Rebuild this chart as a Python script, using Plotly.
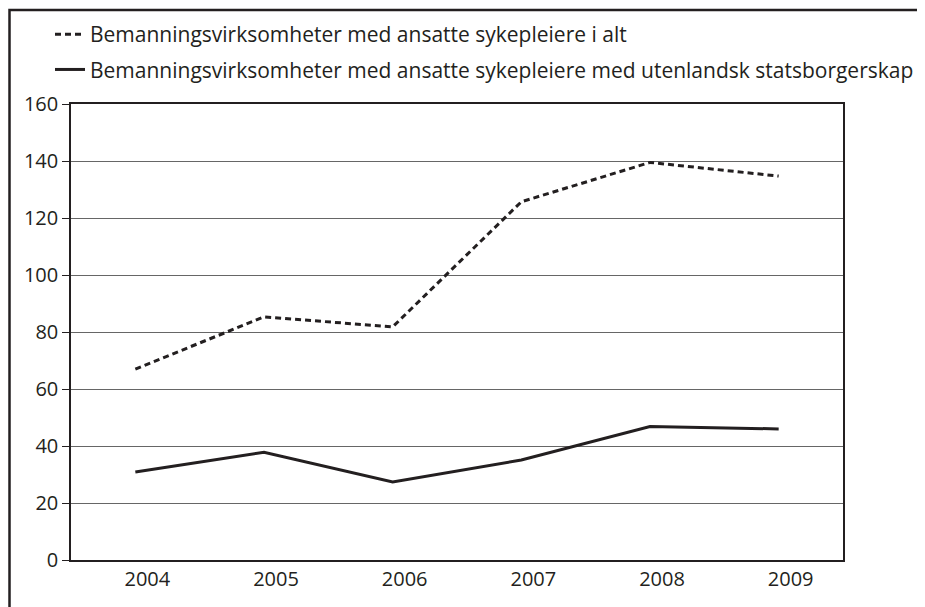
import plotly.graph_objects as go

years = ["2004", "2005", "2006", "2007", "2008", "2009"]
total = [67, 85.3, 81.8, 125.7, 139.5, 134.7]
foreign = [30.9, 37.8, 27.4, 35.1, 46.8, 46.0]
name_total = "Bemanningsvirksomheter med ansatte sykepleiere i alt"
name_foreign = "Bemanningsvirksomheter med ansatte sykepleiere med utenlandsk statsborgerskap"
y_ticks = [0, 20, 40, 60, 80, 100, 120, 140, 160]

OFF = 8  # page body margin offset
W, H = 925, 607
L, R, T, B = 71 - OFF, 82 + OFF, 104 - OFF, 47 + OFF
pw, ph = W - L - R, H - T - B

def px_x(p):
    return (p - OFF - L) / pw

def px_y(p):
    return (H - B - (p - OFF)) / ph

fig = go.Figure()
fig.add_trace(go.Scatter(x=years, y=total, mode="lines", name=name_total,
                         legendgroup="a",
                         line=dict(color="#231f20", width=3, dash="6px,4px")))
fig.add_trace(go.Scatter(x=years, y=foreign, mode="lines", name=name_foreign,
                         legendgroup="b",
                         line=dict(color="#231f20", width=3)))

font = "Open Sans"
fig.update_layout(
    width=W, height=H,
    margin=dict(l=L, r=R, t=T, b=B, autoexpand=False),
    paper_bgcolor="white", plot_bgcolor="white",
    font=dict(family=font, size=20, color="#231f20"),
    showlegend=True,
    legend=dict(x=px_x(50), y=px_y(14), xanchor="left", yanchor="top",
                bgcolor="rgba(0,0,0,0)", tracegroupgap=5,
                font=dict(family=font, size=21, color="#231f20")),
    xaxis=dict(type="category", range=[-0.5, 5.5], showgrid=False,
               showline=True, mirror=True, linecolor="#231f20", linewidth=1.5,
               ticks="", ticklabelshift=12, fixedrange=True),
    yaxis=dict(range=[0, 160], tickvals=y_ticks, showgrid=True,
               gridcolor="#666666", gridwidth=1, showline=True, mirror=True,
               linecolor="#231f20", linewidth=1.5, ticks="outside",
               ticklen=7, tickcolor="#231f20", zeroline=False, fixedrange=True),
    shapes=[dict(type="rect", xref="paper", yref="paper",
                 x0=px_x(9.5), x1=px_x(945), y0=px_y(10), y1=px_y(640),
                 line=dict(color="#231f20", width=2.5), layer="above")],
)

fig.write_html("out.html")
